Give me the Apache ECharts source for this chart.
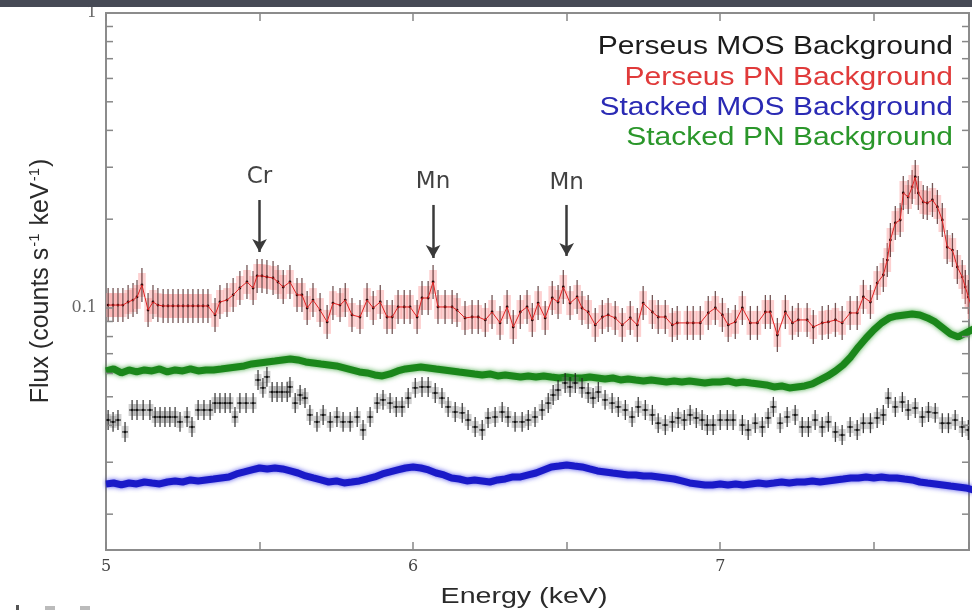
<!DOCTYPE html>
<html><head><meta charset="utf-8">
<script src="https://cdn.jsdelivr.net/npm/echarts@6/dist/echarts.min.js"></script>
<style>html,body{margin:0;padding:0;background:#fff}#c{width:972px;height:610px}</style>
</head><body><div id="c"></div>
<script>
// ---------- axis ranges & tick labels ----------
const X_MIN = 5, X_MAX = 7.81;
const Y_MIN = 0.01512, Y_MAX = 1;
const xTickValues = [5, 6, 7];
const xTickLabels = ['5', '6', '7'];
const yTickValues = [0.1, 1];
const yTickLabels = ['0.1', '1'];
const yMinorTicks = [0.02,0.03,0.04,0.05,0.06,0.07,0.08,0.09,0.1,0.2,0.3,0.4,0.5,0.6,0.7,0.8,0.9];

// ---------- Perseus PN background (red, with error bars) ----------
const pnEnergy = [
5.007,5.023,5.039,5.055,5.072,5.088,5.101,5.117,5.137,5.153,
5.169,5.186,5.202,5.218,5.235,5.251,5.267,5.283,5.300,5.316,
5.332,5.355,5.371,5.394,5.414,5.436,5.459,5.479,5.492,5.508,
5.524,5.544,5.560,5.577,5.599,5.622,5.638,5.655,5.674,5.697,
5.720,5.739,5.762,5.779,5.801,5.827,5.850,5.870,5.893,5.915,
5.932,5.951,5.971,5.990,6.013,6.029,6.049,6.065,6.081,6.104,
6.127,6.143,6.169,6.192,6.212,6.235,6.257,6.283,6.306,6.326,
6.349,6.371,6.388,6.407,6.430,6.453,6.472,6.489,6.511,6.534,
6.550,6.570,6.593,6.616,6.635,6.658,6.681,6.707,6.730,6.749,
6.779,6.798,6.821,6.844,6.860,6.893,6.912,6.935,6.961,6.984,
7.007,7.026,7.049,7.072,7.098,7.121,7.147,7.163,7.186,7.212,
7.235,7.254,7.283,7.303,7.332,7.352,7.375,7.397,7.423,7.446,
7.466,7.489,7.511,7.531,7.544,7.554,7.570,7.586,7.596,7.612,
7.625,7.635,7.645,7.661,7.674,7.691,7.707,7.723,7.739,7.756,
7.772,7.788,7.798,7.808,7.818];
const pnFlux = [
0.1023,0.1023,0.1023,0.1023,0.1048,0.1064,0.1090,0.1197,0.0984,0.1048,
0.1023,0.1016,0.1016,0.1016,0.1016,0.1016,0.1016,0.1016,0.1016,0.1016,
0.1016,0.0947,0.1048,0.1064,0.1107,0.1169,0.1225,0.1169,0.1284,0.1284,
0.1274,0.1264,0.1225,0.1178,0.1225,0.1107,0.1107,0.1000,0.1064,0.0984,
0.0897,0.1039,0.1023,0.1064,0.0947,0.0932,0.1064,0.1000,0.1048,0.0932,
0.0932,0.1008,0.1008,0.1008,0.0932,0.1081,0.1081,0.1225,0.1008,0.1008,
0.1008,0.0984,0.0925,0.0932,0.0932,0.0911,0.0969,0.0890,0.1008,0.0862,
0.0969,0.1008,0.0911,0.1039,0.0925,0.1081,0.1048,0.1178,0.1039,0.1090,
0.1000,0.0969,0.0876,0.0932,0.0947,0.0925,0.0876,0.0925,0.0876,0.1039,
0.0969,0.0932,0.0932,0.0876,0.0890,0.0890,0.0890,0.0890,0.0962,0.1000,
0.0947,0.0876,0.0897,0.1000,0.0890,0.0890,0.0969,0.0969,0.0810,0.0969,
0.0890,0.0911,0.0911,0.0862,0.0890,0.0897,0.0911,0.0890,0.0962,0.0962,
0.1090,0.1048,0.1215,0.1294,0.1454,0.1700,0.1941,0.1987,0.2454,0.2378,
0.2572,0.2780,0.2454,0.2287,0.2269,0.2323,0.2200,0.1987,0.1609,0.1572,
0.1377,0.1274,0.1178,0.1090,0.1008];
const pnErrFactor = 1.142;   // error-bar half length (multiplicative)
const pnBandFactor = 1.098;  // shaded error band

// ---------- Perseus MOS background (black, with error bars) ----------
const mosEnergy = [
5.007,5.023,5.039,5.062,5.085,5.101,5.121,5.143,5.160,5.176,
5.192,5.208,5.225,5.241,5.264,5.280,5.300,5.319,5.339,5.355,
5.371,5.388,5.404,5.420,5.436,5.456,5.479,5.495,5.511,5.524,
5.541,5.557,5.573,5.590,5.599,5.616,5.632,5.648,5.664,5.687,
5.707,5.730,5.752,5.772,5.795,5.818,5.837,5.860,5.883,5.902,
5.925,5.945,5.964,5.984,6.007,6.029,6.049,6.072,6.094,6.114,
6.137,6.160,6.179,6.202,6.225,6.244,6.267,6.290,6.309,6.332,
6.355,6.375,6.397,6.420,6.440,6.456,6.472,6.495,6.511,6.528,
6.550,6.570,6.586,6.603,6.625,6.648,6.668,6.691,6.713,6.733,
6.756,6.779,6.798,6.821,6.844,6.863,6.883,6.902,6.922,6.941,
6.958,6.977,7.000,7.023,7.042,7.072,7.091,7.114,7.137,7.156,
7.173,7.195,7.218,7.244,7.267,7.287,7.309,7.332,7.352,7.375,
7.397,7.423,7.446,7.466,7.489,7.511,7.531,7.547,7.570,7.593,
7.612,7.635,7.658,7.678,7.700,7.723,7.743,7.765,7.788,7.808];
const mosFlux = [
0.0417,0.0411,0.0417,0.0380,0.0451,0.0451,0.0451,0.0451,0.0427,0.0427,
0.0427,0.0427,0.0427,0.0411,0.0427,0.0395,0.0451,0.0451,0.0451,0.0476,
0.0476,0.0476,0.0476,0.0427,0.0476,0.0476,0.0476,0.0570,0.0536,0.0584,
0.0519,0.0519,0.0519,0.0519,0.0540,0.0476,0.0507,0.0495,0.0434,0.0411,
0.0434,0.0411,0.0427,0.0411,0.0411,0.0427,0.0386,0.0427,0.0476,0.0488,
0.0476,0.0462,0.0462,0.0495,0.0536,0.0540,0.0540,0.0515,0.0495,0.0462,
0.0444,0.0441,0.0417,0.0395,0.0386,0.0424,0.0427,0.0444,0.0427,0.0411,
0.0411,0.0417,0.0427,0.0451,0.0476,0.0507,0.0527,0.0557,0.0540,0.0557,
0.0536,0.0515,0.0495,0.0519,0.0488,0.0476,0.0462,0.0451,0.0427,0.0462,
0.0451,0.0434,0.0407,0.0401,0.0411,0.0424,0.0417,0.0434,0.0424,0.0417,
0.0401,0.0401,0.0417,0.0417,0.0417,0.0401,0.0386,0.0407,0.0395,0.0424,
0.0462,0.0407,0.0427,0.0434,0.0395,0.0395,0.0417,0.0395,0.0411,0.0380,
0.0371,0.0395,0.0386,0.0407,0.0407,0.0424,0.0434,0.0495,0.0462,0.0480,
0.0451,0.0458,0.0427,0.0444,0.0441,0.0407,0.0407,0.0417,0.0395,0.0386];
const mosErrFactor = 1.081;
const mosBandFactor = 1.048;

// ---------- Stacked backgrounds (dense bands) ----------
const bandEnergy = [
5.000,5.025,5.050,5.075,5.100,5.125,5.150,5.175,
5.200,5.225,5.250,5.275,5.300,5.325,5.350,5.375,
5.400,5.425,5.450,5.475,5.500,5.525,5.550,5.575,
5.600,5.625,5.650,5.675,5.700,5.725,5.750,5.775,
5.800,5.825,5.850,5.875,5.900,5.925,5.950,5.975,
6.000,6.025,6.050,6.075,6.100,6.125,6.150,6.175,
6.200,6.225,6.250,6.275,6.300,6.325,6.350,6.375,
6.400,6.425,6.450,6.475,6.500,6.525,6.550,6.575,
6.600,6.625,6.650,6.675,6.700,6.725,6.750,6.775,
6.800,6.825,6.850,6.875,6.900,6.925,6.950,6.975,
7.000,7.025,7.050,7.075,7.100,7.125,7.150,7.175,
7.200,7.225,7.250,7.275,7.300,7.325,7.350,7.375,
7.400,7.425,7.450,7.475,7.500,7.525,7.550,7.575,
7.600,7.625,7.650,7.675,7.700,7.725,7.750,7.775,
7.800,7.825];
const stackedPnFlux = [
0.06116,0.06212,0.06021,0.06164,0.06068,0.06164,0.06116,0.06212,
0.06068,0.06164,0.06116,0.06212,0.06116,0.06164,0.06164,0.06212,
0.06261,0.06310,0.06359,0.06459,0.06510,0.06561,0.06612,0.06664,
0.06716,0.06664,0.06561,0.06510,0.06459,0.06409,0.06359,0.06261,
0.06164,0.06068,0.06021,0.05928,0.05882,0.05974,0.06116,0.06212,
0.06261,0.06310,0.06261,0.06212,0.06164,0.06116,0.06068,0.06021,
0.05974,0.05928,0.05974,0.05882,0.05928,0.05882,0.05836,0.05882,
0.05836,0.05882,0.05836,0.05791,0.05836,0.05791,0.05791,0.05836,
0.05791,0.05746,0.05791,0.05701,0.05746,0.05701,0.05657,0.05701,
0.05657,0.05613,0.05657,0.05613,0.05657,0.05613,0.05569,0.05613,
0.05613,0.05657,0.05569,0.05613,0.05569,0.05526,0.05483,0.05398,
0.05440,0.05356,0.05398,0.05440,0.05526,0.05701,0.05882,0.06116,
0.06409,0.06822,0.07376,0.07913,0.08424,0.08896,0.09250,0.09395,
0.09469,0.09543,0.09469,0.09250,0.08966,0.08556,0.08165,0.07975,
0.08229,0.08490];
const stackedMosFlux = [
0.02532,0.02551,0.02512,0.02551,0.02532,0.02571,0.02551,0.02532,
0.02571,0.02592,0.02571,0.02612,0.02592,0.02612,0.02632,0.02653,
0.02674,0.02737,0.02780,0.02824,0.02868,0.02846,0.02868,0.02846,
0.02802,0.02758,0.02695,0.02653,0.02612,0.02571,0.02592,0.02551,
0.02571,0.02592,0.02632,0.02674,0.02737,0.02780,0.02824,0.02868,
0.02891,0.02868,0.02824,0.02758,0.02716,0.02653,0.02632,0.02592,
0.02612,0.02592,0.02571,0.02612,0.02632,0.02674,0.02674,0.02716,
0.02758,0.02824,0.02891,0.02913,0.02936,0.02913,0.02891,0.02846,
0.02802,0.02780,0.02758,0.02737,0.02716,0.02716,0.02695,0.02695,
0.02674,0.02653,0.02632,0.02592,0.02551,0.02532,0.02512,0.02512,
0.02532,0.02512,0.02532,0.02512,0.02532,0.02551,0.02532,0.02551,
0.02571,0.02551,0.02571,0.02571,0.02592,0.02571,0.02592,0.02612,
0.02632,0.02653,0.02653,0.02674,0.02653,0.02674,0.02653,0.02653,
0.02632,0.02612,0.02571,0.02551,0.02532,0.02512,0.02492,0.02473,
0.02454,0.02416];

// ---------- line annotations ----------
const lineEnergy = [5.5, 6.065, 6.5];
const lineLabel = ['Cr', 'Mn', 'Mn'];
const labelFlux = [0.278, 0.2674, 0.2653];
const arrowTop = [0.2323, 0.2235, 0.2235];
const arrowTip = [0.1548, 0.1477, 0.1501];

// ---------- legend ----------
const legendNames = ['Perseus MOS Background', 'Perseus PN Background', 'Stacked MOS Background', 'Stacked PN Background'];
const legendColors = ['#1c1c1c', '#e03a3a', '#2a2ab4', '#2a962a'];

// ================== chart ==================
const chart = echarts.init(document.getElementById('c'), null, {renderer: 'canvas'});

function xLabel(v) {
  const i = xTickValues.findIndex(t => Math.abs(t - v) < 1e-6);
  return i >= 0 ? xTickLabels[i] : '';
}
function yLabel(v) {
  const i = yTickValues.findIndex(t => Math.abs(t - v) / t < 1e-4);
  return i >= 0 ? yTickLabels[i] : '';
}

function errRenderer(f, bandF, halfW, capW, barColor, bandColor, dotColor, dotR) {
  return function (params, api) {
    const e = api.value(0), v = api.value(1);
    const c = api.coord([e, v]);
    const top = api.coord([e, v * f]), bot = api.coord([e, v / f]);
    const bt = api.coord([e, v * bandF]), bb = api.coord([e, v / bandF]);
    const kids = [
      {type: 'rect', shape: {x: c[0] - halfW, y: bt[1], width: 2 * halfW, height: bb[1] - bt[1]}, style: {fill: bandColor}},
      {type: 'line', shape: {x1: c[0], y1: top[1], x2: c[0], y2: bot[1]}, style: {stroke: barColor, lineWidth: 1.3}}
    ];
    if (capW > 0) kids.push({type: 'line', shape: {x1: c[0] - capW, y1: c[1], x2: c[0] + capW, y2: c[1]}, style: {stroke: barColor, lineWidth: 1.3}});
    kids.push({type: 'circle', shape: {cx: c[0], cy: c[1], r: dotR}, style: {fill: dotColor}});
    return {type: 'group', children: kids};
  };
}

const axisFont = 'DejaVu Serif';
const option = {
  animation: false,
  backgroundColor: '#ffffff',
  grid: {left: 106, right: 2, top: 13, bottom: 60, show: true, borderColor: '#8c8c8c', borderWidth: 2, backgroundColor: 'transparent'},
  xAxis: [
    {type: 'value', min: X_MIN, max: X_MAX, interval: 0.5, position: 'bottom',
     axisLine: {show: false}, splitLine: {show: false},
     axisTick: {show: true, inside: true, length: 8, lineStyle: {color: '#888', width: 1.5}},
     axisLabel: {formatter: xLabel, margin: 9, color: '#444', fontFamily: axisFont, fontSize: 16}},
    {type: 'value', min: X_MIN, max: X_MAX, interval: 0.5, position: 'top',
     axisLine: {show: false}, splitLine: {show: false},
     axisTick: {show: true, inside: true, length: 8, lineStyle: {color: '#888', width: 1.5}},
     axisLabel: {show: false}}
  ],
  yAxis: {type: 'log', logBase: 10, min: Y_MIN, max: Y_MAX,
    axisLine: {show: false}, axisTick: {show: false}, splitLine: {show: false},
    axisLabel: {formatter: yLabel, margin: 9, color: '#666', fontFamily: axisFont, fontSize: 16}},
  series: [
    {name: 'Stacked MOS Background', type: 'line', silent: true, showSymbol: false, z: 2,
     data: bandEnergy.map((e, i) => [e, stackedMosFlux[i]]),
     lineStyle: {color: '#1a1ac8', width: 7, shadowColor: 'rgba(40,40,230,0.8)', shadowBlur: 5}},
    {name: 'Stacked PN Background', type: 'line', silent: true, showSymbol: false, z: 2,
     data: bandEnergy.map((e, i) => [e, stackedPnFlux[i]]),
     lineStyle: {color: '#1b871b', width: 7, shadowColor: 'rgba(30,150,30,0.8)', shadowBlur: 5}},
    {name: 'Perseus MOS Background', type: 'custom', silent: true, z: 3, clip: true,
     data: mosEnergy.map((e, i) => [e, mosFlux[i]]),
     renderItem: errRenderer(mosErrFactor, mosBandFactor, 3.5, 3, 'rgba(30,30,30,0.85)', 'rgba(120,120,120,0.35)', '#111', 1.2)},
    {name: 'Perseus PN Background', type: 'custom', silent: true, z: 3, clip: true,
     data: pnEnergy.map((e, i) => [e, pnFlux[i]]),
     renderItem: errRenderer(pnErrFactor, pnBandFactor, 3.8, 0, 'rgba(70,30,30,0.75)', 'rgba(250,150,150,0.45)', '#2a0a0a', 1.4)},
    {name: 'Perseus PN line', type: 'line', silent: true, showSymbol: false, z: 4,
     data: pnEnergy.map((e, i) => [e, pnFlux[i]]),
     lineStyle: {color: '#e02424', width: 1}},
    {name: 'annotations', type: 'scatter', silent: true, z: 6, symbolSize: 0,
     data: lineEnergy.map((e, i) => [e, labelFlux[i]]),
     label: {show: true, position: 'inside', formatter: p => lineLabel[p.dataIndex],
             color: '#111', fontSize: 23, fontFamily: 'DejaVu Sans'},
     markLine: {silent: true, symbol: ['none', 'arrow'], symbolSize: [11, 13], animation: false,
       lineStyle: {color: '#3a3a3a', width: 2.5, type: 'solid'}, label: {show: false},
       data: lineEnergy.map((e, i) => [{coord: [e, arrowTop[i]]}, {coord: [e, arrowTip[i]]}])}},
    {name: 'y ticks', type: 'custom', silent: true, z: 5, clip: false,
     data: yMinorTicks.map(v => [X_MIN, v]),
     renderItem: function (params, api) {
       const p = api.coord([api.value(0), api.value(1)]);
       const cs = params.coordSys;
       const len = 7;
       return {type: 'group', children: [
         {type: 'line', shape: {x1: cs.x, y1: p[1], x2: cs.x + len, y2: p[1]}, style: {stroke: '#888', lineWidth: 1.5}},
         {type: 'line', shape: {x1: cs.x + cs.width - len, y1: p[1], x2: cs.x + cs.width, y2: p[1]}, style: {stroke: '#888', lineWidth: 1.5}}
       ]};
     }}
  ],
  graphic: [
    {type: 'rect', z: 100, shape: {x: 0, y: 0, width: 972, height: 7}, style: {fill: '#464a55'}},
    {type: 'text', z: 50, x: 953, y: 47, scaleX: 1.2, style: {text: legendNames[0], fill: legendColors[0], fontSize: 25, fontFamily: 'Liberation Sans', align: 'right', verticalAlign: 'middle'}},
    {type: 'text', z: 50, x: 953, y: 78, scaleX: 1.2, style: {text: legendNames[1], fill: legendColors[1], fontSize: 25, fontFamily: 'Liberation Sans', align: 'right', verticalAlign: 'middle'}},
    {type: 'text', z: 50, x: 953, y: 108, scaleX: 1.2, style: {text: legendNames[2], fill: legendColors[2], fontSize: 25, fontFamily: 'Liberation Sans', align: 'right', verticalAlign: 'middle'}},
    {type: 'text', z: 50, x: 953, y: 138, scaleX: 1.2, style: {text: legendNames[3], fill: legendColors[3], fontSize: 25, fontFamily: 'Liberation Sans', align: 'right', verticalAlign: 'middle'}},
    {type: 'text', z: 50, x: 524, y: 597, scaleX: 1.3, style: {text: 'Energy (keV)', fill: '#2a2a2a', fontSize: 22, fontFamily: 'Liberation Sans', align: 'center', verticalAlign: 'middle'}},
    {type: 'text', z: 50, x: 41, y: 281, rotation: Math.PI / 2,
     style: {text: 'Flux (counts s{sup|-1} keV{sup|-1})', fill: '#2a2a2a', fontSize: 25, fontFamily: 'Liberation Sans', align: 'center', verticalAlign: 'middle',
             rich: {sup: {fontSize: 15, fontFamily: 'Liberation Sans', fill: '#2a2a2a', padding: [0, 1, 12, 1]}}}},
    {type: 'rect', z: 50, shape: {x: 16, y: 605, width: 3, height: 5}, style: {fill: '#555'}},
    {type: 'rect', z: 50, shape: {x: 45, y: 606, width: 10, height: 4}, style: {fill: '#bbb'}},
    {type: 'rect', z: 50, shape: {x: 80, y: 606, width: 10, height: 4}, style: {fill: '#bbb'}}
  ]
};
chart.setOption(option);
</script>
</body></html>
